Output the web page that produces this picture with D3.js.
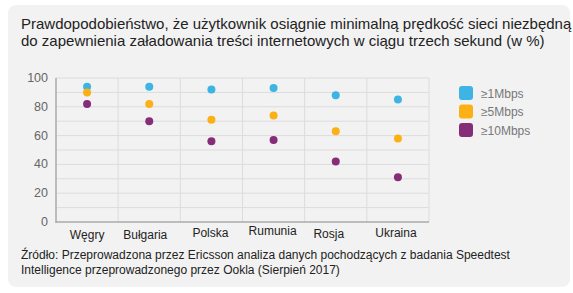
<!DOCTYPE html>
<html><head><meta charset="utf-8">
<script src="https://cdn.jsdelivr.net/npm/d3@7"></script>
<style>body{margin:0;background:#fff;font-family:"Liberation Sans",Arial,sans-serif}</style>
</head><body><svg id="c" width="573" height="293"></svg>
<script>
const categories = ["Węgry","Bułgaria","Polska","Rumunia","Rosja","Ukraina"];
const seriesNames = ["≥1Mbps","≥5Mbps","≥10Mbps"];
const s1 = [94, 94, 92, 93, 88, 85];
const s5 = [90, 82, 71, 74, 63, 58];
const s10 = [82, 70, 56, 57, 42, 31];
const yTicks = [0,20,40,60,80,100];
const colors = ["#3cb4e4","#fbb115","#862d7a"];
const labelDy = [0, 0, -2, -4, -1, -2];
const labelDx = [0, -4, -1, -1, -7, -2];

const svg = d3.select("#c");
svg.append("rect").attr("x",8).attr("y",5).attr("width",562).attr("height",282).attr("rx",8).attr("fill","#f2f2f2");

svg.append("text").attr("x",21).attr("y",29).attr("font-size",15).attr("fill","#222")
  .text("Prawdopodobieństwo, że użytkownik osiągnie minimalną prędkość sieci niezbędną");
svg.append("text").attr("x",21).attr("y",46).attr("font-size",15).attr("fill","#222")
  .text("do zapewnienia załadowania treści internetowych w ciągu trzech sekund (w %)");

const L=56, R=429, T=78, B=222;
const x = d3.scaleBand().domain(categories).range([L,R]);
const y = d3.scaleLinear().domain([0,100]).range([B,T]);

const g = svg.append("g");
g.selectAll(".hg").data(d3.range(10,101,10)).join("line")
  .attr("x1",L).attr("x2",R).attr("y1",d=>y(d)).attr("y2",d=>y(d))
  .attr("stroke","#dcdcdc").attr("stroke-width",1);
g.selectAll(".vg").data(categories.slice(1).concat([null])).join("line")
  .attr("x1",d=>d?x(d):R).attr("x2",d=>d?x(d):R).attr("y1",T).attr("y2",B)
  .attr("stroke","#dcdcdc").attr("stroke-width",1);
g.append("line").attr("x1",L).attr("x2",L).attr("y1",T).attr("y2",B+1).attr("stroke","#aaa").attr("stroke-width",1.5);
g.append("line").attr("x1",L).attr("x2",R).attr("y1",B).attr("y2",B).attr("stroke","#aaa").attr("stroke-width",1.5);

g.selectAll(".yt").data(yTicks).join("text")
  .attr("x",L-8).attr("y",d=>y(d)+4).attr("text-anchor","end")
  .attr("font-size",12.5).attr("fill","#666").text(d=>d);

g.selectAll(".xl").data(categories).join("text")
  .attr("x",(d,i)=>x(d)+x.bandwidth()/2+labelDx[i]).attr("y",(d,i)=>239+labelDy[i]).attr("text-anchor","middle")
  .attr("font-size",12).attr("fill","#222").text(d=>d);

[s1,s5,s10].forEach((s,k)=>{
  g.selectAll(".d"+k).data(s).join("circle")
    .attr("cx",(d,i)=>x(categories[i])+x.bandwidth()/2)
    .attr("cy",d=>y(d)).attr("r",4).attr("fill",colors[k]);
});

const lg = svg.append("g");
seriesNames.forEach((n,i)=>{
  lg.append("rect").attr("x",459).attr("y",86+i*18.5).attr("width",14).attr("height",14).attr("rx",3).attr("fill",colors[i]);
  lg.append("text").attr("x",481).attr("y",97.5+i*18.5).attr("font-size",12).attr("fill","#777").text(n);
});

svg.append("text").attr("x",21).attr("y",259).attr("font-size",12).attr("fill","#222")
  .text("Źródło: Przeprowadzona przez Ericsson analiza danych pochodzących z badania Speedtest");
svg.append("text").attr("x",21).attr("y",273.5).attr("font-size",12).attr("fill","#222")
  .text("Intelligence przeprowadzonego przez Ookla (Sierpień 2017)");
</script></body></html>
